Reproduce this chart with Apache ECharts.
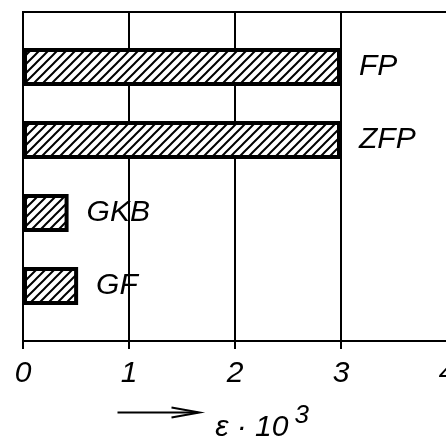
<!DOCTYPE html>
<html>
<head>
<meta charset="utf-8">
<script src="https://cdn.jsdelivr.net/npm/echarts@6/dist/echarts.min.js"></script>
<style>
  html, body { margin: 0; padding: 0; background: #fff; }
  #strain_chart { width: 446px; height: 440px; }
</style>
</head>
<body>
<div id="strain_chart"></div>
<script>
var categories = ['FP', 'ZFP', 'GKB', 'GF'];
var strainValues = [3.0, 3.0, 0.43, 0.52];
var xTicks = [0, 1, 2, 3, 4];

var chart = echarts.init(document.getElementById('strain_chart'));
var font = '"Liberation Sans", sans-serif';

// small tile with one "/" stroke, repeated as the bar fill
function makeHatch(size, width) {
    var c = document.createElement('canvas');
    c.width = size;
    c.height = size;
    var ctx = c.getContext('2d');
    ctx.fillStyle = '#fff';
    ctx.fillRect(0, 0, size, size);
    ctx.strokeStyle = '#000';
    ctx.lineWidth = width;
    ctx.beginPath();
    ctx.moveTo(-2, size + 2); ctx.lineTo(size + 2, -2);
    ctx.moveTo(-2, 2); ctx.lineTo(2, -2);
    ctx.moveTo(size - 2, size + 2); ctx.lineTo(size + 2, size - 2);
    ctx.stroke();
    return c;
}

var option = {
    backgroundColor: '#fff',
    animation: false,
    grid: [
        // frame + gridlines
        { left: 23, right: -1, top: 12, bottom: 99, outerBoundsMode: 'none', containLabel: false,
          show: true, borderColor: '#000', borderWidth: 2, backgroundColor: 'transparent' },
        // bars
        { left: 23, right: -1, top: 30.5, bottom: 117.5, outerBoundsMode: 'none', containLabel: false }
    ],
    xAxis: [
        {
            gridIndex: 0,
            type: 'value',
            min: xTicks[0],
            max: xTicks[xTicks.length - 1],
            interval: 1,
            axisLine: { show: true, lineStyle: { color: '#000', width: 2 } },
            axisTick: { show: true, inside: false, length: 8, lineStyle: { color: '#000', width: 2 } },
            splitLine: { show: true, lineStyle: { color: '#000', width: 2 } },
            axisLabel: {
                show: true, margin: 18, color: '#000', fontSize: 30, fontStyle: 'italic', fontFamily: font,
                showMaxLabel: true
            },
            name: '{t|ε · 10}{sup|3}',
            nameLocation: 'middle',
            nameGap: 62,
            nameTextStyle: {
                padding: [0, 0, 0, 54],
                rich: {
                    t: { fontSize: 30, fontStyle: 'italic', fontFamily: font, color: '#000', verticalAlign: 'bottom' },
                    sup: { fontSize: 26, fontStyle: 'italic', fontFamily: font, color: '#000', verticalAlign: 'top', padding: [0, 0, 14, 6] }
                }
            }
        },
        {
            gridIndex: 1,
            type: 'value',
            min: xTicks[0],
            max: xTicks[xTicks.length - 1],
            show: false
        }
    ],
    yAxis: [
        {
            gridIndex: 0,
            type: 'value',
            min: 0,
            max: 1,
            axisLine: { show: true, lineStyle: { color: '#000', width: 2 } },
            axisTick: { show: false },
            axisLabel: { show: false },
            splitLine: { show: false }
        },
        {
            gridIndex: 1,
            type: 'category',
            inverse: true,
            data: categories,
            show: false
        }
    ],
    graphic: [
        {
            type: 'group',
            left: 115,
            top: 405,
            children: [
                { type: 'line', shape: { x1: 0, y1: 7, x2: 80, y2: 7 }, style: { stroke: '#000', lineWidth: 2 } },
                { type: 'polyline', shape: { points: [[54, 2], [82, 7], [54, 12]] }, style: { stroke: '#000', lineWidth: 2, fill: null } }
            ]
        }
    ],
    series: [
        {
            type: 'bar',
            xAxisIndex: 1,
            yAxisIndex: 1,
            data: strainValues,
            barWidth: 38,
            itemStyle: {
                color: { image: makeHatch(9, 2), repeat: 'repeat' },
                borderColor: '#000',
                borderWidth: 4
            },
            label: {
                show: true,
                position: 'right',
                distance: 18,
                formatter: function (p) { return categories[p.dataIndex]; },
                color: '#000',
                fontSize: 30,
                fontStyle: 'italic',
                fontFamily: font
            }
        }
    ]
};

chart.setOption(option);
</script>
</body>
</html>
